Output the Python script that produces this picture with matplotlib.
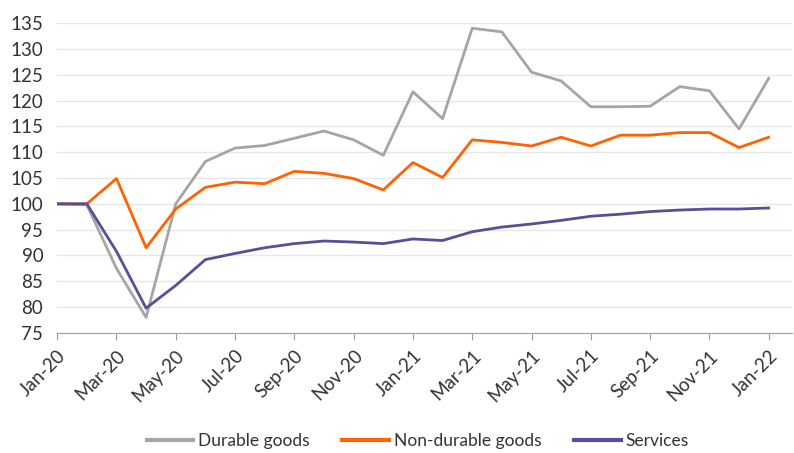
import matplotlib.pyplot as plt

months = ['Jan-20', 'Feb-20', 'Mar-20', 'Apr-20', 'May-20', 'Jun-20', 'Jul-20', 'Aug-20',
          'Sep-20', 'Oct-20', 'Nov-20', 'Dec-20', 'Jan-21', 'Feb-21', 'Mar-21', 'Apr-21',
          'May-21', 'Jun-21', 'Jul-21', 'Aug-21', 'Sep-21', 'Oct-21', 'Nov-21', 'Dec-21', 'Jan-22']

durable = [100, 99.8, 87.5, 78.0, 100.0, 108.2, 110.8, 111.3, 112.7, 114.1, 112.4, 109.4,
           121.7, 116.5, 134.0, 133.3, 125.5, 123.8, 118.8, 118.8, 118.9, 122.7, 121.9, 114.5, 124.3]
non_durable = [100, 100, 104.9, 91.5, 99.0, 103.2, 104.2, 103.9, 106.3, 105.9, 104.9, 102.7,
               108.0, 105.1, 112.4, 111.9, 111.2, 112.9, 111.2, 113.3, 113.3, 113.8, 113.8, 110.9, 112.9]
services = [100, 100, 90.8, 79.8, 84.2, 89.2, 90.4, 91.5, 92.3, 92.8, 92.6, 92.3,
            93.2, 92.9, 94.6, 95.5, 96.1, 96.8, 97.6, 98.0, 98.5, 98.8, 99.0, 99.0, 99.2]

plt.rcParams['font.family'] = ['Lato', 'DejaVu Sans']

fig = plt.figure(figsize=(7.94, 4.53), dpi=100)
ax = fig.add_axes([0.072, 0.265, 0.926, 0.684])

x = list(range(len(months)))
ax.plot(x, durable, color='#A5A5A5', lw=2, label='Durable goods')
ax.plot(x, non_durable, color='#FF6200', lw=2, label='Non-durable goods')
ax.plot(x, services, color='#525199', lw=2, label='Services')

ax.set_ylim(75, 135)
ax.set_yticks(range(75, 136, 5))
ax.set_xlim(0, 24.8)
ax.set_xticks(x[::2])
ax.set_xticklabels(months[::2], rotation=45, ha='right', rotation_mode='anchor')

ax.grid(axis='y', color='#E6E6E6', lw=1)
ax.set_axisbelow(True)
for s in ['left', 'right', 'top']:
    ax.spines[s].set_visible(False)
ax.spines['bottom'].set_color('#A0A0A0')
ax.tick_params(axis='y', length=0, labelsize=13.5, colors='#333333', pad=10)
ax.tick_params(axis='x', length=5, color='#A0A0A0', labelsize=13.5, labelcolor='#333333', pad=5)

leg = fig.legend(loc='lower center', ncol=3, frameon=False, fontsize=12.5,
                 bbox_to_anchor=(0.526, -0.025), handlelength=2.7, handletextpad=0.25,
                 columnspacing=1.9, labelcolor='#333333')
for h in leg.get_lines():
    h.set_linewidth(3)

fig.savefig('out.png', dpi=100)
